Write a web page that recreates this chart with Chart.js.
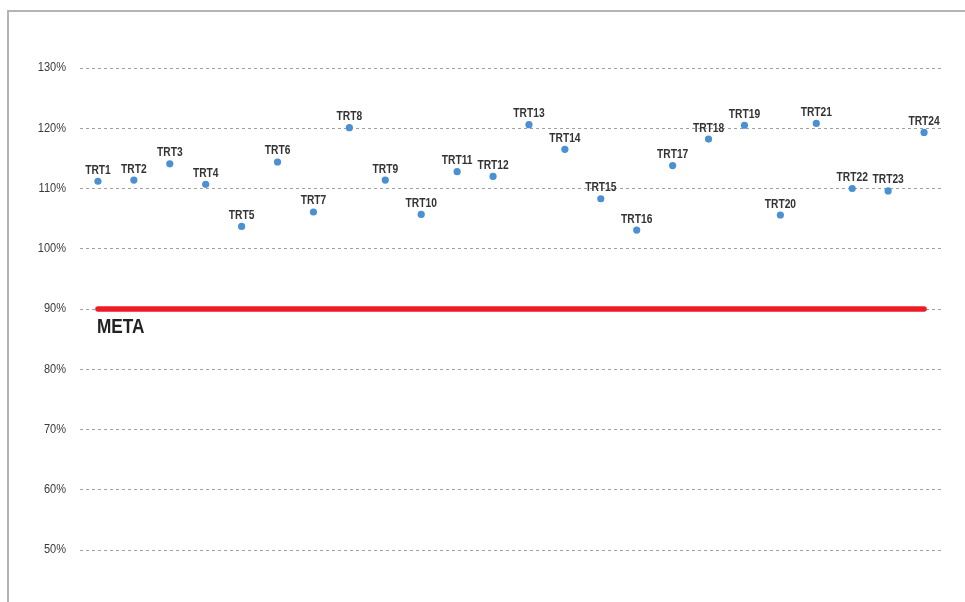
<!DOCTYPE html>
<html>
<head>
<meta charset="utf-8">
<script src="https://cdn.jsdelivr.net/npm/chart.js@4"></script>
<style>
  body { margin: 0; background: #fff; }
  #wrap { position: relative; width: 965px; height: 602px; }
  #frame { position: absolute; left: 7px; top: 10px; right: 0; bottom: 0;
           border-top: 2px solid #b4b4b4; border-left: 2px solid #b4b4b4; }
  canvas { position: absolute; left: 0; top: 0; }
</style>
</head>
<body>
<div id="wrap">
  <div id="frame"></div>
  <canvas id="myChart" width="965" height="602"></canvas>
</div>
<script>
// categories and the reading for each one (in %)
const categories = ['TRT1', 'TRT2', 'TRT3', 'TRT4', 'TRT5', 'TRT6', 'TRT7', 'TRT8',
  'TRT9', 'TRT10', 'TRT11', 'TRT12', 'TRT13', 'TRT14', 'TRT15', 'TRT16',
  'TRT17', 'TRT18', 'TRT19', 'TRT20', 'TRT21', 'TRT22', 'TRT23', 'TRT24'];
const values = [111.2, 111.4, 114.1, 110.7, 103.7, 114.4, 106.1, 120.1,
  111.4, 105.7, 112.8, 112.0, 120.6, 116.5, 108.3, 103.1,
  113.8, 118.2, 120.5, 105.6, 120.8, 110.0, 109.6, 119.3];
const goal = 90;
const goalLabel = 'META';
const yTicks = [50, 60, 70, 80, 90, 100, 110, 120, 130];

const family = '"Liberation Sans", Arial, sans-serif';
const squeeze = 0.82; // no narrow font here, so squeeze Arial-like text

function narrowText(ctx, text, x, y) {
  ctx.save();
  ctx.translate(x, y);
  ctx.scale(squeeze, 1);
  ctx.fillText(text, 0, 0);
  ctx.restore();
}

// writes the TRT names above the dots, META under the red line, and the y ticks
const labelPlugin = {
  id: 'labels',
  afterDatasetsDraw(chart) {
    const ctx = chart.ctx;
    ctx.save();
    const pts = chart.getDatasetMeta(1).data;
    ctx.fillStyle = '#333';
    ctx.font = 'bold 12.5px ' + family;
    ctx.textAlign = 'center';
    ctx.textBaseline = 'alphabetic';
    pts.forEach((p, i) => {
      narrowText(ctx, categories[i], p.x, p.y - 7.5);
    });

    const g = chart.getDatasetMeta(0).data[0];
    ctx.fillStyle = '#222';
    ctx.font = 'bold 21px ' + family;
    ctx.textAlign = 'left';
    narrowText(ctx, goalLabel, g.x - 1, g.y + 24);

    const y = chart.scales.y;
    ctx.fillStyle = '#3a3a3a';
    ctx.font = '12px ' + family;
    ctx.textAlign = 'right';
    ctx.textBaseline = 'middle';
    yTicks.forEach(v => {
      ctx.save();
      ctx.translate(66, y.getPixelForValue(v));
      ctx.scale(0.92, 1);
      ctx.fillText(v + '%', 0, 0);
      ctx.restore();
    });
    ctx.restore();
  }
};

const ctx = document.getElementById('myChart').getContext('2d');
const chart = new Chart(ctx, {
  type: 'line',
  data: {
    labels: categories,
    datasets: [{
      label: goalLabel,
      data: categories.map(() => goal),
      borderColor: '#ed1c24',
      borderWidth: 5.5,
      borderCapStyle: 'round',
      pointRadius: 0,
      order: 2
    }, {
      label: 'TRT',
      data: values,
      showLine: false,
      pointRadius: 3.6,
      pointBackgroundColor: '#4a90d2',
      pointBorderWidth: 0,
      order: 1
    }]
  },
  options: {
    responsive: false,
    animation: false,
    clip: false,
    layout: { padding: { left: 0, right: 23, top: 68, bottom: 52 } },
    plugins: { legend: { display: false }, tooltip: { enabled: false } },
    scales: {
      x: {
        display: false,
        offset: true
      },
      y: {
        min: 50,
        max: 130,
        afterBuildTicks: scale => { scale.ticks = yTicks.map(v => ({ value: v })); },
        afterFit: scale => { scale.width = 80; },
        border: { display: false, dash: [3, 3] },
        grid: { color: '#a0a0a0', lineWidth: 1, drawTicks: false },
        ticks: { display: false }
      }
    }
  },
  plugins: [labelPlugin]
});
</script>
</body>
</html>
